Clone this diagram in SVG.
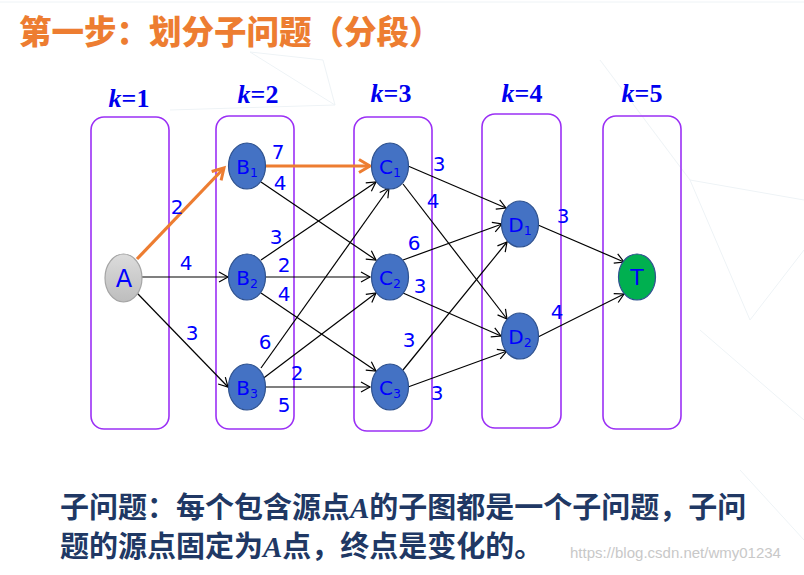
<svg xmlns="http://www.w3.org/2000/svg" width="804" height="575" viewBox="0 0 804 575">
<style>
.box{fill:none;stroke:#9B30F5;stroke-width:1.6}
.kl{font-family:"Liberation Serif",serif;font-weight:bold;font-size:26px;fill:#0000EE;text-anchor:middle}
.node{fill:#4472C4;stroke:#2F528F;stroke-width:1.2}
.nl{font-family:"DejaVu Sans",sans-serif;font-size:20px;fill:#0000FF;text-anchor:middle}
.big{font-size:24px}
.sub{font-size:12.5px}
.e{stroke:#000;stroke-width:1.2;fill:none;marker-end:url(#ah)}
.eo{stroke:#ED7D31;stroke-width:3.2;fill:none;marker-end:url(#aho)}
.w{font-family:"DejaVu Sans",sans-serif;font-size:20px;fill:#0000FF;text-anchor:middle}
.title{font-family:"Noto Sans CJK SC",sans-serif;font-weight:900;font-size:32.5px;fill:#ED7D31}
.body{font-family:"Noto Sans CJK SC",sans-serif;font-weight:bold;font-size:29px;fill:#203864}
.ia{font-family:"Liberation Serif",serif;font-style:italic;font-weight:bold}
.bg{stroke:#eef3f6;stroke-width:1;fill:none}
</style>
<defs>
<marker id="ah" viewBox="-12 -7 14 14" refX="0" refY="0" markerWidth="14" markerHeight="14" orient="auto" markerUnits="userSpaceOnUse">
<path d="M-9,-5 L0,0 L-9,5" fill="none" stroke="#000" stroke-width="1.2"/>
</marker>
<marker id="aho" viewBox="-14 -9 17 18" refX="0" refY="0" markerWidth="17" markerHeight="18" orient="auto" markerUnits="userSpaceOnUse">
<path d="M-11,-6.5 L0,0 L-11,6.5" fill="none" stroke="#ED7D31" stroke-width="3"/>
</marker>
<linearGradient id="ga" x1="0" y1="0" x2="0" y2="1">
<stop offset="0" stop-color="#dcdcdc"/>
<stop offset="1" stop-color="#bdbdbd"/>
</linearGradient>
</defs>
<rect width="804" height="575" fill="#fff"/>
<g id="background">
<line class="bg" x1="0" y1="2" x2="804" y2="2"/>
<path class="bg" d="M250,52 L335,105 L170,110 M335,105 L323,60 L250,52 M600,60 L690,180 L804,200 M690,180 L750,320 L804,250 M700,330 L804,420 M740,470 L804,540"/>
</g>
<text class="title" x="19" y="44">第一步：划分子问题（分段）</text>
<g id="stages">
<rect class="box" x="91" y="117" width="78" height="312" rx="13"/>
<rect class="box" x="216" y="116" width="78" height="313" rx="13"/>
<rect class="box" x="354" y="117" width="78" height="314" rx="13"/>
<rect class="box" x="482" y="114" width="79" height="314" rx="13"/>
<rect class="box" x="603" y="116" width="78" height="313" rx="13"/>
<text class="kl" x="129" y="107"><tspan font-style="italic">k</tspan>=1</text>
<text class="kl" x="258" y="103"><tspan font-style="italic">k</tspan>=2</text>
<text class="kl" x="391" y="102"><tspan font-style="italic">k</tspan>=3</text>
<text class="kl" x="522" y="102"><tspan font-style="italic">k</tspan>=4</text>
<text class="kl" x="642" y="102"><tspan font-style="italic">k</tspan>=5</text>
</g>
<g id="connectors">
<line class="eo" x1="137" y1="259" x2="224" y2="168"/>
<line class="eo" x1="266" y1="166" x2="370" y2="166"/>
<line class="e" x1="142" y1="277" x2="228" y2="277"/>
<line class="e" x1="137" y1="293" x2="228" y2="387"/>
<line class="e" x1="261" y1="182" x2="376" y2="260"/>
<line class="e" x1="261" y1="260" x2="376" y2="182"/>
<line class="e" x1="266" y1="277" x2="370" y2="277"/>
<line class="e" x1="261" y1="293" x2="376" y2="371"/>
<line class="e" x1="261" y1="368" x2="389" y2="188"/>
<line class="e" x1="261" y1="380" x2="376" y2="293"/>
<line class="e" x1="266" y1="387" x2="370" y2="387"/>
<line class="e" x1="408" y1="166" x2="506" y2="208"/>
<line class="e" x1="403" y1="184" x2="507" y2="319"/>
<line class="e" x1="403" y1="260" x2="502" y2="224"/>
<line class="e" x1="403" y1="293" x2="501" y2="336"/>
<line class="e" x1="403" y1="370" x2="507" y2="242"/>
<line class="e" x1="408" y1="387" x2="507" y2="351"/>
<line class="e" x1="538" y1="225" x2="624" y2="262"/>
<line class="e" x1="538" y1="337" x2="624" y2="294"/>
<text class="w" x="177" y="214">2</text>
<text class="w" x="186" y="270">4</text>
<text class="w" x="192" y="340">3</text>
<text class="w" x="278" y="159">7</text>
<text class="w" x="280" y="190">4</text>
<text class="w" x="276" y="244">3</text>
<text class="w" x="284" y="272">2</text>
<text class="w" x="284" y="301">4</text>
<text class="w" x="265" y="349">6</text>
<text class="w" x="297" y="380">2</text>
<text class="w" x="284" y="412">5</text>
<text class="w" x="439" y="171">3</text>
<text class="w" x="433" y="208">4</text>
<text class="w" x="414" y="250">6</text>
<text class="w" x="420" y="293">3</text>
<text class="w" x="409" y="347">3</text>
<text class="w" x="437" y="400">3</text>
<text class="w" x="563" y="223">3</text>
<text class="w" x="557" y="319">4</text>
</g>
<g id="A">
<ellipse cx="123.5" cy="278" rx="18.5" ry="24" fill="url(#ga)" stroke="#a5a5a5" stroke-width="1.2"/>
<text class="nl big" x="124" y="286.5">A</text>
</g>
<g id="B1"><ellipse class="node" cx="247" cy="166" rx="18.5" ry="23"/><text class="nl" x="247" y="174">B<tspan class="sub" dy="3">1</tspan></text></g>
<g id="B2"><ellipse class="node" cx="247" cy="277" rx="18.5" ry="23"/><text class="nl" x="247" y="285">B<tspan class="sub" dy="3">2</tspan></text></g>
<g id="B3"><ellipse class="node" cx="247" cy="387" rx="18.5" ry="23"/><text class="nl" x="247" y="395">B<tspan class="sub" dy="3">3</tspan></text></g>
<g id="C1"><ellipse class="node" cx="390" cy="166" rx="18.5" ry="23"/><text class="nl" x="390" y="174">C<tspan class="sub" dy="3">1</tspan></text></g>
<g id="C2"><ellipse class="node" cx="390" cy="277" rx="18.5" ry="23"/><text class="nl" x="390" y="285">C<tspan class="sub" dy="3">2</tspan></text></g>
<g id="C3"><ellipse class="node" cx="390" cy="387" rx="18.5" ry="23"/><text class="nl" x="390" y="395">C<tspan class="sub" dy="3">3</tspan></text></g>
<g id="D1"><ellipse class="node" cx="520" cy="224" rx="18.5" ry="23"/><text class="nl" x="520" y="232">D<tspan class="sub" dy="3">1</tspan></text></g>
<g id="D2"><ellipse class="node" cx="520" cy="336" rx="18.5" ry="23"/><text class="nl" x="520" y="344">D<tspan class="sub" dy="3">2</tspan></text></g>
<g id="T"><ellipse cx="637" cy="277" rx="18.5" ry="23" fill="#00B050" stroke="#2F528F" stroke-width="1.2"/><text class="nl" x="637" y="285" style="font-size:22px">T</text></g>
<text class="body" x="60" y="518">子问题：每个包含源点<tspan class="ia">A</tspan>的子图都是一个子问题，子问</text>
<text class="body" x="60" y="557">题的源点固定为<tspan class="ia">A</tspan>点，终点是变化的。</text>
<text x="570" y="558" font-family="Liberation Sans,sans-serif" font-size="15" fill="#c8c8c8">https://blog.csdn.net/wmy01234</text>
</svg>
